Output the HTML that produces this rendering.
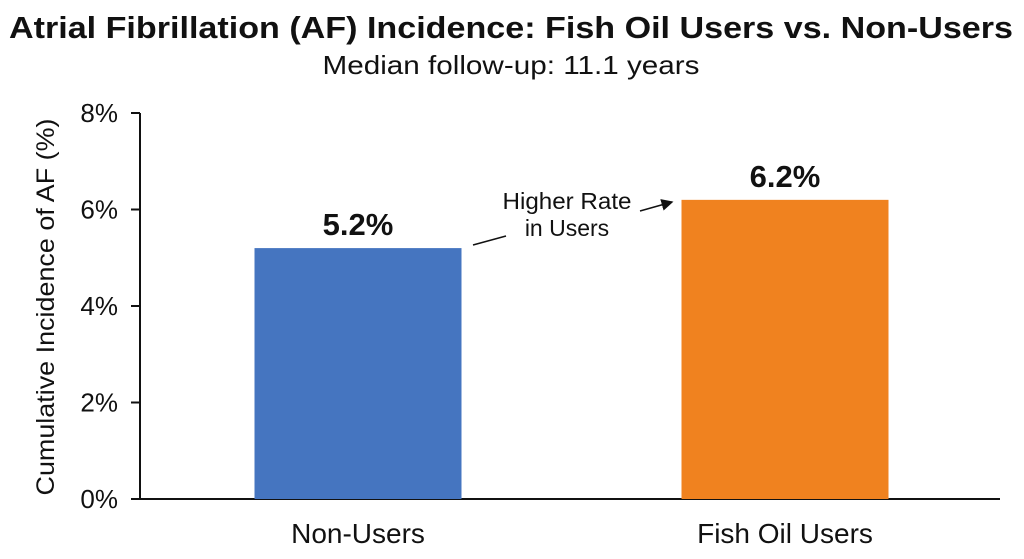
<!DOCTYPE html>
<html><head><meta charset="utf-8"><style>
body{margin:0;background:#fff;font-family:"Liberation Sans",sans-serif}
svg{display:block}
</style></head><body>
<svg width="1024" height="559">
<defs><marker id="ah" markerWidth="8" markerHeight="8" refX="7" refY="4" orient="auto"><path d="M0,0 L8,4 L0,8 z" fill="#111"/></marker></defs>
<text x="511" y="38" text-anchor="middle" font-size="31" font-weight="bold" fill="#111" textLength="1004" lengthAdjust="spacingAndGlyphs">Atrial Fibrillation (AF) Incidence: Fish Oil Users vs. Non-Users</text>
<text x="511" y="74" text-anchor="middle" font-size="26" fill="#111" textLength="377" lengthAdjust="spacingAndGlyphs">Median follow-up: 11.1 years</text>
<text transform="translate(54,307) rotate(-90)" text-anchor="middle" font-size="25" fill="#111" textLength="377" lengthAdjust="spacingAndGlyphs">Cumulative Incidence of AF (%)</text>
<g id="axes"></g>
<g id="bars"></g>
<line x1="473" y1="245" x2="506" y2="236" stroke="#111" stroke-width="1.5"/>
<line x1="640" y1="211" x2="672" y2="202" stroke="#111" stroke-width="1.5" marker-end="url(#ah)"/>
<text x="567" y="209" text-anchor="middle" font-size="23" fill="#111"><tspan x="567" textLength="129" lengthAdjust="spacingAndGlyphs">Higher Rate</tspan><tspan x="567" dy="27">in Users</tspan></text>
</svg>
<script>
const categories=["Non-Users","Fish Oil Users"];
const values=[5.2,6.2];
const colors=["#4575c0","#f0821f"];
const yTicks=[0,2,4,6,8];
const x0=140,x1=1000,yBase=499,yTop=113;
const y=v=>yBase-(v/8)*(yBase-yTop);
const bandCenter=i=>358+i*427;
const barW=207;
const ns="http://www.w3.org/2000/svg";
const ax=document.getElementById('axes'),bg=document.getElementById('bars');
function mk(t,a,p){const e=document.createElementNS(ns,t);for(const k in a)e.setAttribute(k,a[k]);p.appendChild(e);return e;}
let yl=mk('line',{x1:x0,y1:yTop,x2:x0,y2:yBase,stroke:'#111','stroke-width':2},ax);


let xl=mk('line',{x1:x0,y1:yBase,x2:x1,y2:yBase,stroke:'#111','stroke-width':2},ax);


yTicks.forEach(t=>{
 let tk=mk('line',{x1:x0-9,y1:y(t),x2:x0,y2:y(t),stroke:'#111','stroke-width':2},ax);
 
 
 let tl=mk('text',{x:x0-22,y:y(t)+9,'text-anchor':'end','font-size':26,fill:'#111'},ax);
 tl.textContent=t+'%';
 
 
});
categories.forEach((c,i)=>{
 const cx=bandCenter(i);
 let r=mk('rect',{x:cx-barW/2,y:y(values[i]),width:barW,height:yBase-y(values[i]),fill:colors[i]},bg);
 
 
 let v=mk('text',{x:cx,y:y(values[i])-13,'text-anchor':'middle','font-size':31,'font-weight':'bold',fill:'#111'},bg);
 v.textContent=values[i].toFixed(1)+'%';
 
 
 let l=mk('text',{x:cx,y:543,'text-anchor':'middle','font-size':28,fill:'#111'},bg);
 l.textContent=c;
 
 
});
</script>
</body></html>
